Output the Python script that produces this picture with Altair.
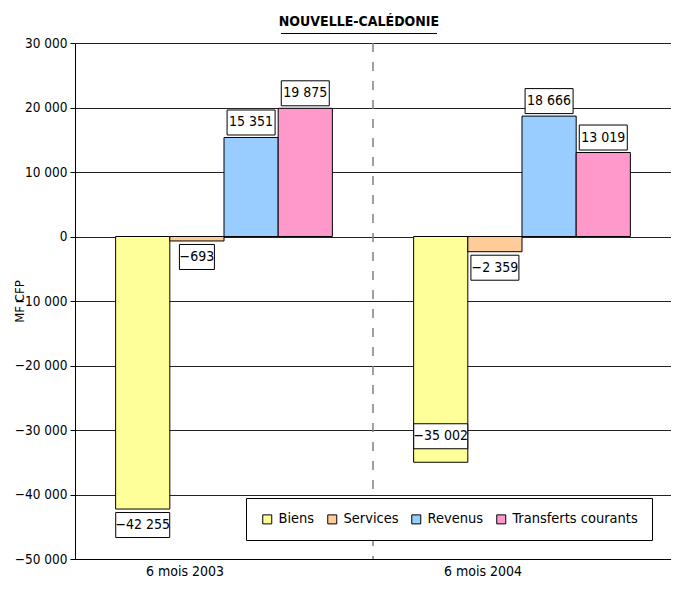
import altair as alt
import pandas as pd

periods = ["6 mois 2003", "6 mois 2004"]
series = ["Biens", "Services", "Revenus", "Transferts courants"]
values_2003 = [-42255, -693, 15351, 19875]
values_2004 = [-35002, -2359, 18666, 13019]
colors = ["#FFFF99", "#FFCC99", "#99CCFF", "#FF99CC"]
y_ticks = [-50000, -40000, -30000, -20000, -10000, 0, 10000, 20000, 30000]

rows = []
for p, vals in zip(periods, [values_2003, values_2004]):
    for s, v in zip(series, vals):
        rows.append({
            "periode": p,
            "poste": s,
            "valeur": v,
            "label": f"{v:,}".replace(",", " ").replace("-", "\u2212"),
        })
df = pd.DataFrame(rows)

FONT = "DejaVu Sans Condensed, Liberation Sans Narrow, DejaVu Sans, sans-serif"

base = alt.Chart(df)

x = alt.X(
    "periode:N", sort=periods, title=None,
    scale=alt.Scale(domain=periods, paddingInner=0, paddingOuter=0),
    axis=alt.Axis(labelAngle=0, ticks=False, grid=False, domainColor="black",
                  domainWidth=1, labelPadding=12, labelFontSize=14, labelFont=FONT,
                  labelColor="black"),
)
xo = alt.XOffset("poste:N", sort=series,
                 scale=alt.Scale(domain=series, paddingInner=0, paddingOuter=0.75))
y = alt.Y(
    "valeur:Q", stack=None,
    scale=alt.Scale(domain=[-50000, 30000], nice=False),
    axis=alt.Axis(
        values=y_ticks,
        labelExpr="replace(format(datum.value, ','), /,/g, ' ')",
        title="MF CFP", titleFont=FONT, titleFontSize=13, titleFontWeight="normal",
        titleX=-56, titleY=258, titleAngle=270, titleAlign="center",
        titleBaseline="middle", titleColor="black",
        labelFont=FONT, labelFontSize=13.5, labelColor="black", labelPadding=3,
        domainColor="black", tickColor="black", tickSize=5,
        gridColor="#222222", gridWidth=1,
    ),
)

sep = base.mark_rule(color="#808080", strokeWidth=1.5, strokeDash=[9, 10]).encode(
    x=alt.X("periode:N", bandPosition=0, sort=periods),
).transform_filter(f"datum.periode == '{periods[1]}'").transform_aggregate(
    groupby=["periode"], n="count()")

bars = base.mark_bar(stroke="black", strokeWidth=1, opacity=1).encode(
    x=x, xOffset=xo, y=y,
    color=alt.Color(
        "poste:N", sort=series,
        scale=alt.Scale(domain=series, range=colors),
        legend=alt.Legend(
            title=None, orient="bottom-right", offset=19, direction="horizontal",
            columns=4, symbolType="square", symbolSize=81,
            symbolStrokeColor="black", symbolStrokeWidth=1, symbolOpacity=1,
            labelFont=FONT, labelFontSize=14.5, labelColor="black", labelOffset=4,
            fillColor="white", strokeColor="black", padding=14, columnPadding=10,
        ),
    ),
)

special = f"datum.poste == '{series[0]}' && datum.periode == '{periods[1]}'"
groups = [
    ("datum.valeur > 0", -15),
    (f"datum.valeur < 0 && !({special})", 16),
    (special, -26),
]

layers = [sep, bars]
for filt, dy in groups:
    for n, w in [(4, 35), (6, 48), (7, 54)]:
        layers.append(
            base.transform_filter(f"({filt}) && length(datum.label) == {n}")
            .mark_rect(width=w, height=25, yOffset=dy, fill="white",
                       stroke="black", strokeWidth=1)
            .encode(x=x, xOffset=xo, y=y)
        )
    layers.append(
        base.transform_filter(filt)
        .mark_text(yOffset=dy, baseline="middle", align="center", font=FONT,
                   fontSize=14, color="black")
        .encode(x=x, xOffset=xo, y=y, text="label:N")
    )

underline = base.mark_rule(color="black", strokeWidth=1.2).encode(
    x=alt.value(206), x2=alt.value(362), y=alt.value(-9.5)
).transform_filter("datum.poste == 'Biens' && datum.periode == '6 mois 2003'")
layers.append(underline)

chart = alt.layer(*layers).properties(
    width=596, height=516,
    title=alt.TitleParams("NOUVELLE-CALÉDONIE", font=FONT, fontSize=14,
                          fontWeight="bold", color="black", frame="group",
                          anchor="middle", dx=-14, offset=4),
    autosize=alt.AutoSizeParams(type="none"),
    padding={"left": 67, "top": 35, "right": 0, "bottom": 22},
).configure_view(stroke=None).configure(background="white")

chart.save("out.html", embed_options={"renderer": "svg", "actions": False})
